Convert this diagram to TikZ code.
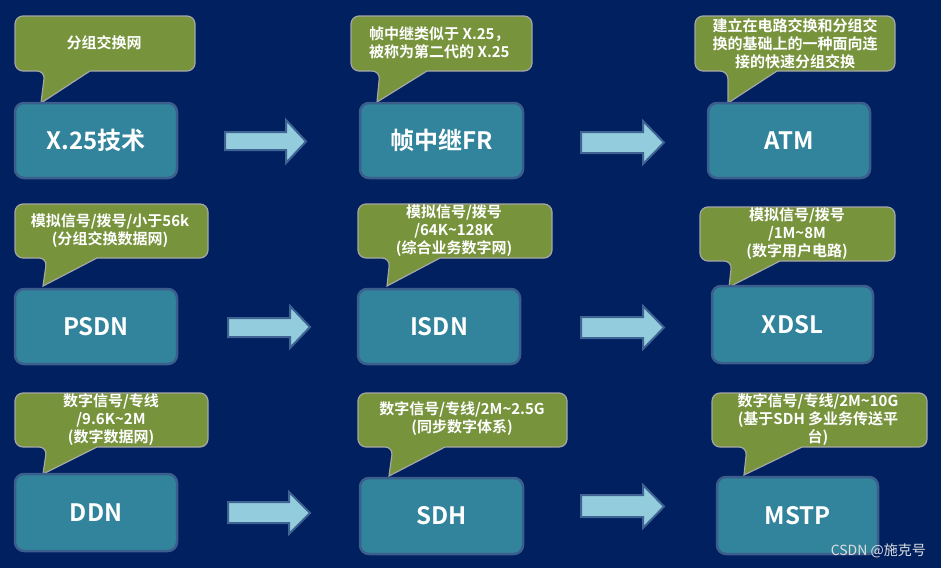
\documentclass[tikz,border=0pt]{standalone}
\usepackage{fontspec}
\setmainfont{Noto Sans CJK SC}[BoldFont={Noto Sans CJK SC Bold}]
\definecolor{bgblue}{HTML}{002060}
\definecolor{boxfill}{HTML}{31849B}
\definecolor{boxline}{HTML}{3B5E8C}
\definecolor{callfill}{HTML}{77933C}
\definecolor{callline}{HTML}{A6A6A6}
\definecolor{arrfill}{HTML}{93CDDD}
\definecolor{arrline}{HTML}{3F6393}
\tikzset{
  techbox/.style={draw=boxline, line width=2.5pt, fill=boxfill, rounded corners=9pt,
    text=white, font=\bfseries\fontsize{24}{28}\selectfont, inner sep=0pt},
  callshape/.style={draw=callline, line width=1.2pt, fill=callfill, line join=miter},
  calltext/.style={text=white, font=\bfseries\fontsize{15}{18}\selectfont, align=center, inner sep=0pt},
  blockarrow/.style={draw=arrline, line width=2pt, fill=arrfill, line join=miter},
}
\newcommand\techbox[6]{%
  \pgfmathsetmacro\tbw{#4-#2}\pgfmathsetmacro\tbh{#5-#3}%
  \node[techbox, minimum width=\tbw pt, minimum height=\tbh pt] (#1) at ({(#2+#4)/2},{(#3+#5)/2}) {#6};}
% x1 y1 x2 y2 tailL tailR tipx tipy
\newcommand\callout[8]{%
  \draw[callshape] (#7,#8) -- (#6,#4) [rounded corners=8pt] -- (#3,#4) -- (#3,#2) -- (#1,#2) -- (#1,#4) -- (#5,#4) [sharp corners] -- cycle;}
% x1 x2 headx shaft1 shaft2 head1 head2
\newcommand\blockarrow[7]{%
  \draw[blockarrow] (#1,#4) -- (#3,#4) -- (#3,#6) -- (#2,{(#6+#7)/2}) -- (#3,#7) -- (#3,#5) -- (#1,#5) -- cycle;}
\begin{document}
\begin{tikzpicture}[x=1pt,y=-1pt]
\useasboundingbox (0,0) rectangle (941,568);
\fill[bgblue] (0,0) rectangle (941,568);

% row 1
\callout{15}{16}{195}{71}{45}{90}{41}{103}
\callout{351}{16}{532}{71}{380}{427}{377}{102}
\callout{695}{16}{895}{71}{728}{777}{728}{103}
\techbox{x25}{15}{103}{177}{178}{X.25技术}
\techbox{fr}{360}{103}{523}{178}{帧中继FR}
\techbox{atm}{708}{103}{870}{178}{ATM}
\node[calltext] (c1) at (104,43) {分组交换网};
\node[calltext, align=left, anchor=west] (c2) at (369,42.5) {帧中继类似于 X.25，\\被称为第二代的 X.25};
\node[calltext] (c3) at (795,43.5) {建立在电路交换和分组交\\换的基础上的一种面向连\\接的快速分组交换};
\blockarrow{225}{306}{286}{132}{150}{120}{163}
\blockarrow{581}{664}{643}{132}{153}{121}{164}

% row 2
\callout{15}{204}{208}{258}{47}{97}{43}{286}
\callout{358}{204}{552}{258}{390}{440}{387}{286}
\callout{700}{207}{895}{261}{732}{780}{729}{287}
\techbox{psdn}{15}{289}{177}{364}{PSDN}
\techbox{isdn}{358}{289}{520}{364}{ISDN}
\techbox{xdsl}{712}{286}{873}{363}{XDSL}
\node[calltext] (c4) at (110,231) {模拟信号/拨号/小于56k\\(分组交换数据网)};
\node[calltext] (c5) at (454,230.5) {模拟信号/拨号\\/64K\textasciitilde128K\\(综合业务数字网)};
\node[calltext] (c6) at (797,233.5) {模拟信号/拨号\\/1M\textasciitilde8M\\(数字用户电路)};
\blockarrow{228}{310}{290}{318}{337}{306}{348}
\blockarrow{581}{664}{643}{317}{338}{306}{349}

% row 3
\callout{15}{393}{208}{447}{47}{97}{43}{474}
\callout{358}{393}{567}{447}{393}{445}{389}{476}
\callout{712}{393}{927}{447}{747}{802}{744}{475}
\techbox{ddn}{15}{474}{177}{551}{DDN}
\techbox{sdh}{360}{478}{523}{554}{SDH}
\techbox{mstp}{717}{477}{878}{554}{MSTP}
\node[calltext] (c7) at (111,420) {数字信号/专线\\/9.6K\textasciitilde2M\\(数字数据网)};
\node[calltext] (c8) at (462,419) {数字信号/专线/2M\textasciitilde2.5G\\(同步数字体系)};
\node[calltext] (c9) at (818,420) {数字信号/专线/2M\textasciitilde10G\\(基于SDH 多业务传送平\\台)};
\blockarrow{228}{310}{289}{502}{523}{492}{534}
\blockarrow{581}{664}{643}{495}{517}{485}{528}

\node[anchor=east, text=white!75!gray, font=\fontsize{14}{16}\selectfont, inner sep=0pt] (wm) at (926,551) {CSDN @施克号};
\end{tikzpicture}
\end{document}
